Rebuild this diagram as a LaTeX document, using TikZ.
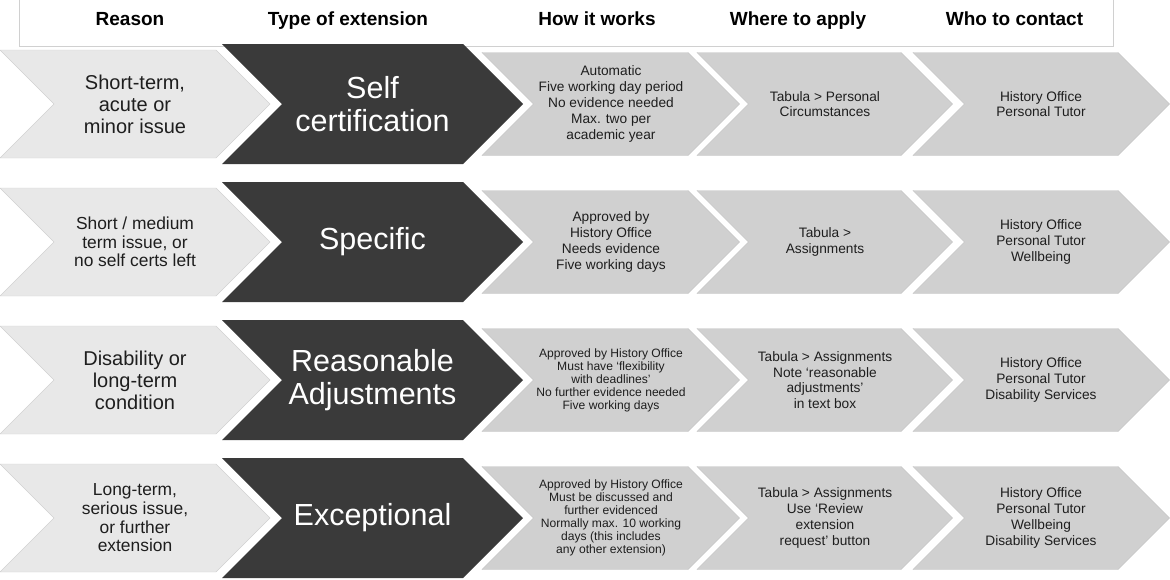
\documentclass[tikz,border=0pt]{standalone}
\usepackage{fontspec}
\setmainfont{Liberation Sans}
\usetikzlibrary{calc}

\definecolor{liteshade}{HTML}{E8E8E8}
\definecolor{darkshade}{HTML}{3A3A3A}
\definecolor{midshade}{HTML}{D0D0D0}
\definecolor{ruleshade}{HTML}{D0D0D0}
\definecolor{inkshade}{HTML}{1E1E1E}

% chevron: style, left x, right corner x, centre y, half height
\newcommand\chev[5]{\path[#1] (#2,{#4-#5}) -- (#3,{#4-#5}) -- ({#3+#5},#4)
  -- (#3,{#4+#5}) -- (#2,{#4+#5}) -- ({#2+#5},#4) -- cycle;}

\tikzset{
  lite/.style={fill=liteshade, draw=liteshade!90!black, line width=0.4pt},
  dark/.style={fill=darkshade},
  mid/.style={fill=midshade, draw=midshade!95!black, line width=0.4pt},
  head/.style={font=\bfseries\fontsize{19}{22}\selectfont, anchor=base, inner sep=0pt},
  reason/.style={font=\fontsize{20}{22}\selectfont, align=center, inner sep=0pt, text=inkshade},
  reasonsm/.style={font=\fontsize{17.4}{18.7}\selectfont, align=center, inner sep=0pt, text=inkshade},
  kind/.style={font=\fontsize{30.5}{33}\selectfont, align=center, inner sep=0pt, text=white},
  info/.style={font=\fontsize{13.7}{15.8}\selectfont, align=center, inner sep=0pt, text=inkshade},
  infosm/.style={font=\fontsize{12.1}{13}\selectfont, align=center, inner sep=0pt, text=inkshade}
}

\begin{document}
\begin{tikzpicture}[x=1pt,y=-1pt]
  \useasboundingbox (0,0) rectangle (1170,579);

  % header
  \draw[ruleshade, line width=1pt] (19,0) -- (19,46.5) -- (1113,46.5) -- (1113,0);
  \node[head] (hReason) at (130,25) {Reason};
  \node[head] (hType) at (348,25) {Type of extension};
  \node[head] (hHow) at (597,25) {How it works};
  \node[head] (hWhere) at (798,25) {Where to apply};
  \node[head] (hWho) at (1014.5,25) {Who to contact};

  % chevrons
  \foreach \y in {104,242,380,518} {
    \chev{lite}{0}{216}{\y}{54}
    \chev{dark}{222}{463}{\y}{60}
    \chev{mid}{482}{688}{\y}{51.5}
    \chev{mid}{697}{901}{\y}{51.5}
    \chev{mid}{913}{1118}{\y}{51.5}
  }

  % self certification
  \node[reason] (reasonA) at (135,104) {Short-term,\\acute or\\minor issue};
  \node[kind] (kindA) at (372.5,104) {Self\\certification};
  \node[info] (howA) at (611,104) {Automatic\\Five working day period\\No evidence needed\\Max. two per\\academic year};
  \node[info] (whereA) at (825,104) {Tabula > Personal\\Circumstances};
  \node[info] (whoA) at (1041,104) {History Office\\Personal Tutor};

  % specific
  \node[reasonsm] (reasonB) at (135,242) {Short / medium\\term issue, or\\no self certs left};
  \node[kind] (kindB) at (372.5,242) {Specific};
  \node[info] (howB) at (611,242) {Approved by\\History Office\\Needs evidence\\Five working days};
  \node[info] (whereB) at (825,242) {Tabula >\\Assignments};
  \node[info] (whoB) at (1041,242) {History Office\\Personal Tutor\\Wellbeing};

  % reasonable adjustments
  \node[reason] (reasonC) at (135,380) {Disability or\\long-term\\condition};
  \node[kind] (kindC) at (372.5,380) {Reasonable\\Adjustments};
  \node[infosm] (howC) at (611,380) {Approved by History Office\\Must have ‘flexibility\\with deadlines’\\No further evidence needed\\Five working days};
  \node[info] (whereC) at (825,380) {Tabula > Assignments\\Note ‘reasonable\\adjustments’\\in text box};
  \node[info] (whoC) at (1041,380) {History Office\\Personal Tutor\\Disability Services};

  % exceptional
  \node[reasonsm] (reasonD) at (135,518) {Long-term,\\serious issue,\\or further\\extension};
  \node[kind] (kindD) at (372.5,518) {Exceptional};
  \node[infosm] (howD) at (611,518) {Approved by History Office\\Must be discussed and\\further evidenced\\Normally max. 10 working\\days (this includes\\any other extension)};
  \node[info] (whereD) at (825,518) {Tabula > Assignments\\Use ‘Review\\extension\\request’ button};
  \node[info] (whoD) at (1041,518) {History Office\\Personal Tutor\\Wellbeing\\Disability Services};
\end{tikzpicture}
\end{document}
